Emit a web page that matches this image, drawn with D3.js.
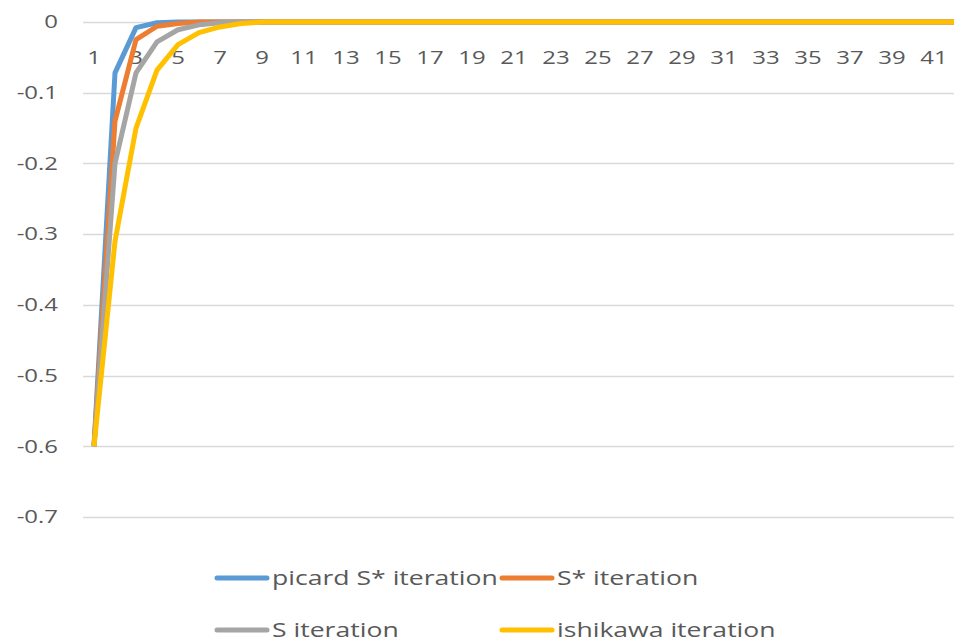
<!DOCTYPE html>
<html>
<head>
<meta charset="utf-8">
<script src="https://cdn.jsdelivr.net/npm/d3@7"></script>
<style>
  body { margin: 0; background: #fff; }
  svg { display: block; font-family: "Open Sans", "Noto Sans", sans-serif; }
</style>
</head>
<body>
<div id="chart"></div>
<script>
// iteration numbers 1..42
const steps = [1,2,3,4,5,6,7,8,9,10,11,12,13,14,15,16,17,18,19,20,21,
  22,23,24,25,26,27,28,29,30,31,32,33,34,35,36,37,38,39,40,41,42]

const picardSStar = [-0.6,-0.072,-0.008,-0.001,0,0,0,0,0,0,0,0,0,0,0,0,0,0,0,0,0,
  0,0,0,0,0,0,0,0,0,0,0,0,0,0,0,0,0,0,0,0,0]
const sStar = [-0.6,-0.14,-0.025,-0.006,-0.002,0,0,0,0,0,0,0,0,0,0,0,0,0,0,0,0,
  0,0,0,0,0,0,0,0,0,0,0,0,0,0,0,0,0,0,0,0,0]
const sIter = [-0.6,-0.2,-0.072,-0.028,-0.011,-0.004,-0.001,0,0,0,0,0,0,0,0,0,0,0,0,0,0,
  0,0,0,0,0,0,0,0,0,0,0,0,0,0,0,0,0,0,0,0,0]
const ishikawa = [-0.6,-0.31,-0.15,-0.068,-0.032,-0.015,-0.007,-0.002,0,0,0,0,0,0,0,0,0,0,0,0,0,
  0,0,0,0,0,0,0,0,0,0,0,0,0,0,0,0,0,0,0,0,0]

const yTicks = [0,-0.1,-0.2,-0.3,-0.4,-0.5,-0.6,-0.7]
const xTickLabels = steps.filter(d => d % 2 === 1)

const series = [
  { name: "picard S* iteration", values: picardSStar, color: "#5B9BD5" },
  { name: "S* iteration", values: sStar, color: "#ED7D31" },
  { name: "S iteration", values: sIter, color: "#A5A5A5" },
  { name: "ishikawa iteration", values: ishikawa, color: "#FFC000" }
]

const W = 954, H = 643
const SX = 1.33  // the text in the picture is stretched sideways
const svg = d3.select("#chart").append("svg")
  .attr("width", W).attr("height", H)

const x = d3.scalePoint().domain(steps).range([94, 955])
const y = d3.scaleLinear().domain([-0.7, 0]).range([517, 22])

// gridlines
svg.append("g")
  .selectAll("line")
  .data(yTicks)
  .join("line")
    .attr("x1", 83).attr("x2", W)
    .attr("y1", d => Math.round(y(d)) + 0.5)
    .attr("y2", d => Math.round(y(d)) + 0.5)
    .attr("stroke", "#d9d9d9")
    .attr("stroke-width", 1.5)

// y labels
svg.append("g")
  .selectAll("text")
  .data(yTicks)
  .join("text")
    .attr("transform", d => `translate(58,${y(d)}) scale(${SX},1)`)
    .attr("dy", "0.35em")
    .attr("text-anchor", "end")
    .attr("fill", "#595959")
    .style("font-size", "18px")
    .text(d => String(d))

// x labels (sit just under the zero line)
svg.append("g")
  .selectAll("text")
  .data(xTickLabels)
  .join("text")
    .attr("transform", d => `translate(${x(d)},58) scale(${SX},1)`)
    .attr("dy", "0.35em")
    .attr("text-anchor", "middle")
    .attr("fill", "#595959")
    .style("font-size", "18px")
    .text(d => d)

const line = d3.line()
  .x((d, i) => x(steps[i]))
  .y(d => y(d))

svg.append("g")
  .selectAll("path")
  .data(series)
  .join("path")
    .attr("fill", "none")
    .attr("stroke", d => d.color)
    .attr("stroke-width", 5)
    .attr("stroke-linejoin", "round")
    .attr("d", d => line(d.values))

// legend
const legendPos = [[215, 578], [500, 578], [215, 630], [500, 630]]
const legend = svg.append("g")
  .selectAll("g")
  .data(series)
  .join("g")
    .attr("transform", (d, i) => `translate(${legendPos[i][0]},${legendPos[i][1]})`)

legend.append("line")
  .attr("x1", 2).attr("x2", 52)
  .attr("stroke", d => d.color)
  .attr("stroke-width", 5)
  .attr("stroke-linecap", "round")

legend.append("text")
  .attr("transform", `translate(57,0) scale(${SX},1)`)
  .attr("dy", "0.35em")
  .attr("fill", "#595959")
  .style("font-size", "20px")
  .text(d => d.name)
</script>
</body>
</html>
